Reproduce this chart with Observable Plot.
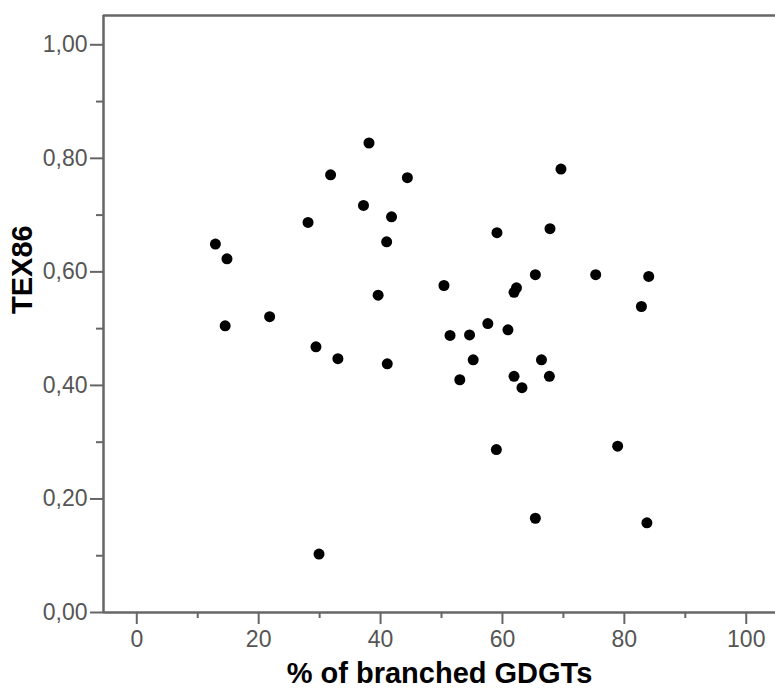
<!DOCTYPE html>
<html><head><meta charset="utf-8">
<script src="https://cdn.jsdelivr.net/npm/d3@7"></script>
<script src="https://cdn.jsdelivr.net/npm/@observablehq/plot@0.6"></script>
<style>body{margin:0;background:#fff}</style>
</head><body><div id="chart"></div>
<script>
// % of branched GDGTs (x) and TEX86 (y)
const branched = [12.9,14.8,14.5,21.8,28.1,29.4,29.9,31.8,33.0,37.2,38.1,39.6,41.0,41.1,41.8,44.4,50.4,51.4,53.0,54.6,55.2,57.6,59.1,59.0,60.9,61.9,62.3,61.9,63.2,65.4,65.4,66.4,67.8,67.7,69.6,75.3,78.9,82.8,83.7,84.0];
const tex86 = [0.649,0.623,0.505,0.521,0.687,0.468,0.103,0.771,0.447,0.717,0.827,0.559,0.653,0.438,0.697,0.766,0.576,0.488,0.410,0.489,0.445,0.509,0.669,0.287,0.498,0.564,0.572,0.416,0.396,0.595,0.166,0.445,0.676,0.416,0.781,0.595,0.293,0.539,0.158,0.592];
const xTicks = [0,20,40,60,80,100];
const xMinor = [10,30,50,70,90];
const yTicks = [0,0.2,0.4,0.6,0.8,1.0];
const yMinor = [0.1,0.3,0.5,0.7,0.9];
const xLabel = "% of branched GDGTs";
const yLabel = "TEX86";

const xDomain = [-5.46, 104.8];
const yDomain = [0, 1.0516];
const data = branched.map((x, i) => ({x, y: tex86[i]}));
const axisColor = "#666";
const textColor = "#555";
const fmt = d => d.toFixed(2).replace(".", ",");

const chart = Plot.plot({
  width: 775, height: 689,
  marginLeft: 103, marginRight: 0, marginTop: 15, marginBottom: 77,
  style: {fontFamily: "'Liberation Sans', Arial, sans-serif", fontSize: "23px", background: "#fff", overflow: "visible"},
  x: {domain: xDomain},
  y: {domain: yDomain},
  marks: [
    Plot.axisX({anchor: "bottom", ticks: xTicks, tickSize: 12, tickPadding: 6, stroke: axisColor, fill: textColor, strokeWidth: 2, label: null, tickFormat: d => String(d)}),
    Plot.axisX({anchor: "bottom", ticks: xMinor, tickSize: 6, text: null, stroke: axisColor, strokeWidth: 2, label: null}),
    Plot.axisY({anchor: "left", ticks: yTicks, tickSize: 13, tickPadding: 3, stroke: axisColor, fill: textColor, strokeWidth: 2, label: null, tickFormat: fmt}),
    Plot.axisY({anchor: "left", ticks: yMinor, tickSize: 7, text: null, stroke: axisColor, strokeWidth: 2, label: null}),
    Plot.ruleY([yDomain[1]], {stroke: axisColor, strokeWidth: 2.5}),
    Plot.ruleY([yDomain[0]], {stroke: axisColor, strokeWidth: 2.5}),
    Plot.ruleX([xDomain[0]], {stroke: axisColor, strokeWidth: 2.5}),
    Plot.dot(data, {x: "x", y: "y", r: 5.5, fill: "#000", stroke: "none"}),
    Plot.text([xLabel], {frameAnchor: "bottom", dy: 61, fontSize: 29, fontWeight: "bold", fill: "#000", lineAnchor: "middle"}),
    Plot.text([yLabel], {frameAnchor: "left", dx: -81, rotate: -90, fontSize: 29, fontWeight: "bold", fill: "#000", lineAnchor: "middle"})
  ]
});
document.getElementById("chart").append(chart);
</script>
</body></html>
